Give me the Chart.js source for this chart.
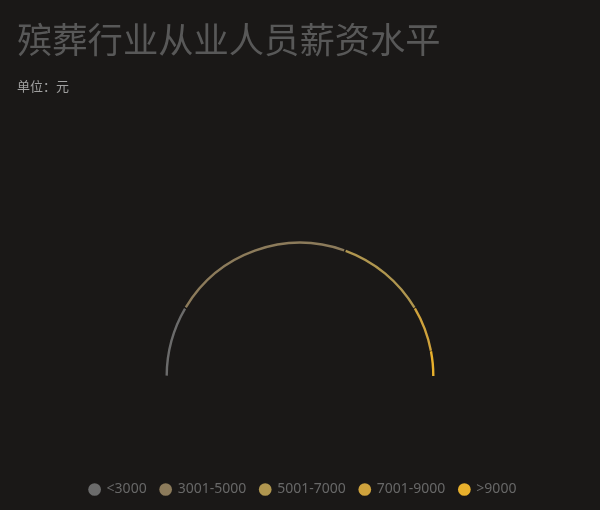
<!DOCTYPE html>
<html>
<head>
<meta charset="utf-8">
<script src="https://cdn.jsdelivr.net/npm/chart.js@4/dist/chart.umd.min.js"></script>
<style>
  html, body { margin: 0; padding: 0; background: #1a1817; }
  #wrap { width: 600px; height: 510px; position: relative; }
</style>
</head>
<body>
<div id="wrap"><canvas id="salaryChart"></canvas></div>
<script>
// 薪资区间（单位：元）
const categories = ['<3000', '3001-5000', '5001-7000', '7001-9000', '>9000'];
// 各区间占比（%）
const shares = [17, 44, 22, 11, 6];
const segmentColors = ['#6b6b6b', '#8c7b5b', '#b0964f', '#cfa23c', '#e8b02c'];

const ctx = document.getElementById('salaryChart').getContext('2d');

// geser legend sedikit ke kanan tanpa memindahkan judul
const legendNudge = {
    id: 'legendNudge',
    afterLayout(chart) {
        if (chart.legend) chart.legend.left += 6;
    }
};

new Chart(ctx, {
    type: 'doughnut',
    data: {
        labels: categories,
        datasets: [{
            data: shares,
            backgroundColor: segmentColors,
            borderWidth: 0,
            spacing: 3
        }]
    },
    options: {
        responsive: true,
        maintainAspectRatio: false,
        animation: false,
        events: [],
        rotation: -90,
        circumference: 180,
        radius: 133,
        cutout: '98.2%',
        layout: {
            padding: { left: 17, right: 17, top: 0, bottom: 3.5 }
        },
        plugins: {
            title: {
                display: true,
                text: '殡葬行业从业人员薪资水平',
                align: 'start',
                color: '#585858',
                font: { family: '"Noto Sans CJK SC"', size: 35.3, weight: 'normal' },
                padding: { top: 18.5, bottom: 0 }
            },
            subtitle: {
                display: true,
                text: '单位：元',
                align: 'start',
                color: '#a0a0a0',
                font: { family: '"Noto Sans CJK SC"', size: 13, weight: 'normal' },
                padding: { top: 17.6, bottom: 56.5 }
            },
            legend: {
                display: true,
                position: 'bottom',
                labels: {
                    usePointStyle: true,
                    pointStyle: 'circle',
                    boxWidth: 10,
                    boxHeight: 9,
                    padding: 14,
                    color: '#686868',
                    font: { family: '"Noto Sans"', size: 14 }
                }
            },
            tooltip: { enabled: false }
        }
    },
    plugins: [legendNudge]
});
</script>
</body>
</html>
